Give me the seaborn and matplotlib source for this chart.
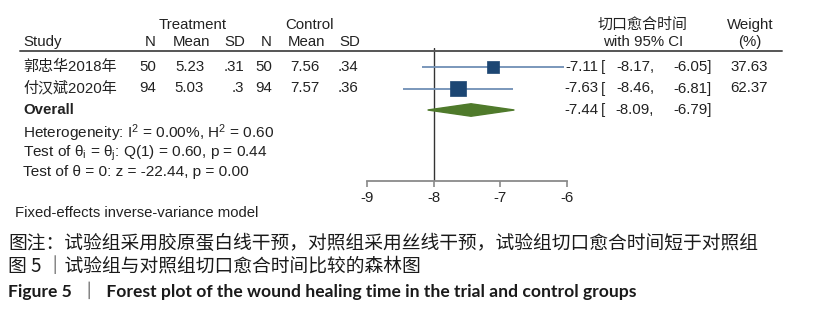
import numpy as np
import pandas as pd
import matplotlib
matplotlib.use("Agg")
import matplotlib.pyplot as plt
from matplotlib.lines import Line2D
import seaborn as sns

# ---------------- data ----------------
studies = ["郭忠华2018年", "付汉斌2020年"]
trt_n = [50, 94]
trt_mean = [5.23, 5.03]
trt_sd = [0.31, 0.30]
ctl_n = [50, 94]
ctl_mean = [7.56, 7.57]
ctl_sd = [0.34, 0.36]
est = [-7.11, -7.63]
ci_lo = [-8.17, -8.46]
ci_hi = [-6.05, -6.81]
weights = [37.63, 62.37]
overall_est = -7.44
overall_lo = -8.09
overall_hi = -6.79
ref_line = -8
xticks = [-9, -8, -7, -6]
stats_lines = [
    r"Heterogeneity: I$^2$ = 0.00%, H$^2$ = 0.60",
    r"Test of θ$_\mathrm{i}$ = θ$_\mathrm{j}$: Q(1) = 0.60, p = 0.44",
    r"Test of θ = 0: z = -22.44, p = 0.00",
]
model_note = "Fixed-effects inverse-variance model"
caption1 = "图注：试验组采用胶原蛋白线干预，对照组采用丝线干预，试验组切口愈合时间短于对照组"
caption2 = "图 5 ｜试验组与对照组切口愈合时间比较的森林图"
caption3 = "Figure 5  ｜  Forest plot of the wound healing time in the trial and control groups"

# ---------------- style ----------------
sns.set_theme(style="white")
plt.rcParams["font.family"] = ["Liberation Sans", "Noto Sans CJK SC", "DejaVu Sans"]
plt.rcParams["mathtext.fontset"] = "custom"
plt.rcParams["mathtext.rm"] = "Liberation Sans"
plt.rcParams["mathtext.it"] = "Liberation Sans:italic"

W, H = 813, 330
fig = plt.figure(figsize=(W / 100, H / 100), dpi=100)
fig.patch.set_facecolor("white")

TXT = "#222222"
FS = 10.8
FAM = ["Liberation Sans", "Noto Sans CJK SC", "DejaVu Sans"]


def T(x, y, s, ha="left", size=FS, weight="normal", family=None, color=TXT,
      va="center"):
    fig.text(x / W, 1 - y / H, s, ha=ha, va=va, fontsize=size,
             fontweight=weight, family=family or FAM, color=color)


def sd_fmt(v):
    s = f"{v:g}"
    return s[1:] if s.startswith("0") else s


# ---------------- forest axes ----------------
ax_left, ax_right = 367, 567
ax_top, ax_bot = 48, 181
row_px0, row_step = 67, 21.5
ax = fig.add_axes([ax_left / W, 1 - ax_bot / H,
                   (ax_right - ax_left) / W, (ax_bot - ax_top) / H])
rows = np.arange(1, len(studies) + 1)
overall_row = len(studies) + 1
ax.set_xlim(xticks[0], xticks[-1])
ax.set_ylim(1 + (ax_bot - row_px0) / row_step, 1 - (row_px0 - ax_top) / row_step)
ax.set_facecolor("none")

ax.axvline(ref_line, color="#333333", lw=1.0, zorder=1)
ax.hlines(rows, ci_lo, ci_hi, color="#6f8fb5", lw=1.3, zorder=2, clip_on=False)
df = pd.DataFrame({"est": est, "row": rows, "w": weights})
k = 2.1
sns.scatterplot(data=df, x="est", y="row", size="w",
                sizes=(min(weights) * k, max(weights) * k),
                size_norm=(min(weights), max(weights)),
                marker="s", color="#1c4673", edgecolor="#1c4673",
                linewidth=0.5, legend=False, ax=ax, zorder=3, clip_on=False)
dh = 0.29
ax.fill([overall_lo, overall_est, overall_hi, overall_est],
        [overall_row, overall_row - dh, overall_row, overall_row + dh],
        color="#4f7a2b", zorder=3, clip_on=False)

for sp in ["top", "right", "left"]:
    ax.spines[sp].set_visible(False)
ax.spines["bottom"].set_color("#8a8a8a")
ax.spines["bottom"].set_linewidth(1.3)
ax.set_xticks(xticks)
ax.set_xticklabels([str(t) for t in xticks], fontsize=FS, color=TXT)
ax.tick_params(axis="x", direction="out", length=4, width=1.2,
               color="#8a8a8a", pad=3, bottom=True)
ax.set_yticks([])
ax.set_xlabel("")
ax.set_ylabel("")

# ---------------- header ----------------
T(193, 25, "Treatment", ha="center")
T(309, 25, "Control", ha="center")
T(23, 42, "Study")
for xr, s in [(156, "N"), (210, "Mean"), (245, "SD"),
              (272, "N"), (325, "Mean"), (360, "SD")]:
    T(xr, 42, s, ha="right")
T(643, 25, "切口愈合时间", ha="center")
T(643, 42, "with 95% CI", ha="center")
T(750, 25, "Weight", ha="center")
T(750, 42, "(%)", ha="center")
fig.add_artist(Line2D([20 / W, 782 / W], [1 - 51 / H] * 2,
                      color="#555555", lw=1.4))

# ---------------- study rows ----------------
for i, name in enumerate(studies):
    y = row_px0 + i * row_step
    T(23, y, name)
    T(156, y, f"{trt_n[i]}", ha="right")
    T(204, y, f"{trt_mean[i]:.2f}", ha="right")
    T(244, y, sd_fmt(trt_sd[i]), ha="right")
    T(272, y, f"{ctl_n[i]}", ha="right")
    T(319, y, f"{ctl_mean[i]:.2f}", ha="right")
    T(358, y, sd_fmt(ctl_sd[i]), ha="right")
    T(598, y, f"{est[i]:.2f}", ha="right")
    T(601, y, "[")
    T(654, y, f"{ci_lo[i]:.2f},", ha="right")
    T(712, y, f"{ci_hi[i]:.2f}]", ha="right")
    T(768, y, f"{weights[i]:.2f}", ha="right")

yo = row_px0 + 2 * row_step
T(23, yo, "Overall", weight="bold")
T(598, yo, f"{overall_est:.2f}", ha="right")
T(601, yo, "[")
T(654, yo, f"{overall_lo:.2f},", ha="right")
T(712, yo, f"{overall_hi:.2f}]", ha="right")

for j, s in enumerate(stats_lines):
    T(23, 137.5 + j * 19.5, s, size=FS + 0.3, va="baseline")
T(15, 213, model_note, size=FS - 0.1)

# ---------------- caption ----------------
CJK = ["Noto Sans CJK SC", "DejaVu Sans"]
T(8, 243, caption1, size=13.5, family=CJK, color="#1a1a1a")
T(8, 266, caption2, size=13.5, family=CJK, color="#1a1a1a")
T(8, 291, caption3, size=12.6, weight="bold",
  family=["Lato", "Noto Sans CJK SC", "DejaVu Sans"], color="#1a1a1a")

fig.savefig("out.png", dpi=100, facecolor="white")
